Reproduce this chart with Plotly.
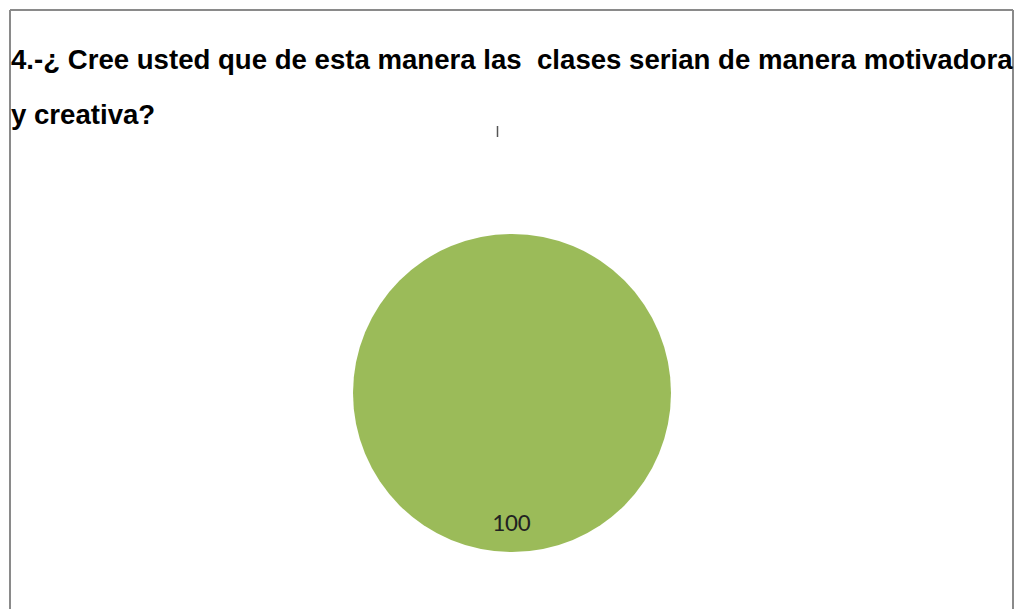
import plotly.graph_objects as go

categories = ["Sí", "No"]
values = [100, 0]
title_lines = ["4.-¿ Cree usted que de esta manera las  clases serian de manera motivadora",
               "y creativa?"]
colors = ["#9BBB59", "#C0504D"]

W, H = 1017, 609


def px_x(x):
    return x / W


def px_y(y):
    return 1 - y / H


fig = go.Figure()
fig.add_trace(go.Pie(
    labels=categories, values=values,
    marker=dict(colors=colors, line=dict(width=0)),
    textinfo="none", sort=False, showlegend=False, hoverinfo="label+value",
    domain=dict(x=[px_x(353), px_x(671)], y=[px_y(552), px_y(234)]),
))

title_font = dict(family="Liberation Sans, Arial", size=27.6, color="#000000")
fig.add_annotation(text="<b>" + title_lines[0].replace("  ", "&nbsp; ") + "</b>", xref="paper", yref="paper",
                   x=px_x(9), y=px_y(69), xanchor="left", yanchor="bottom", showarrow=False,
                   font=title_font, yshift=-8)
fig.add_annotation(text="<b>" + title_lines[1] + "</b>", xref="paper", yref="paper",
                   x=px_x(9), y=px_y(124), xanchor="left", yanchor="bottom", showarrow=False,
                   font=title_font, yshift=-8)
# value label of the full slice
fig.add_annotation(text=str(values[0]), xref="paper", yref="paper",
                   x=px_x(511), y=px_y(522), xanchor="center", yanchor="middle", showarrow=False,
                   font=dict(family="Carlito, Calibri, Liberation Sans", size=25.5, color="#222222"))

line_col = "#8a8a8a"
fig.update_layout(
    width=W, height=H, autosize=False, margin=dict(l=0, r=0, t=0, b=0),
    paper_bgcolor="white", plot_bgcolor="white",
    shapes=[
        dict(type="line", xref="paper", yref="paper", x0=px_x(10), x1=px_x(10), y0=0, y1=px_y(10),
             line=dict(color=line_col, width=2)),
        dict(type="line", xref="paper", yref="paper", x0=px_x(10), x1=px_x(1013), y0=px_y(10), y1=px_y(10),
             line=dict(color=line_col, width=2)),
        dict(type="line", xref="paper", yref="paper", x0=px_x(1013), x1=px_x(1013), y0=0, y1=px_y(10),
             line=dict(color=line_col, width=2)),
        dict(type="line", xref="paper", yref="paper", x0=px_x(497.5), x1=px_x(497.5), y0=px_y(126), y1=px_y(137),
             line=dict(color="#555555", width=1.5)),
    ],
)

fig.write_html("out.html", config={"displayModeBar": False},
               post_script="document.body.style.margin='0';document.documentElement.style.overflow='hidden';")
